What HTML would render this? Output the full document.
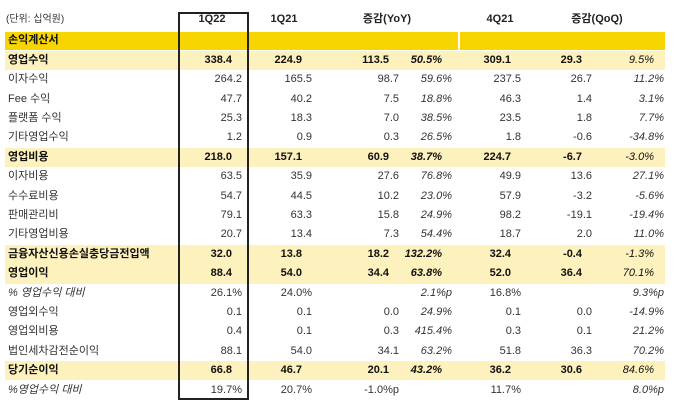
<!DOCTYPE html>
<html><head><meta charset="utf-8"><style>
body{margin:0;background:#fff;}
#c{position:relative;width:680px;height:406px;overflow:hidden;font-family:"Liberation Sans","Noto Sans CJK KR",sans-serif;font-size:11px;color:#333;}
.r{position:absolute;left:0;width:680px;height:19px;line-height:19px;}
.r span{position:absolute;white-space:nowrap;}
.l{left:8px}
.a{right:438px}.b{right:368px}.c{right:281px}.d{right:228px}.e{right:159px}.f{right:88px}.g{right:16px}
.d,.g{font-style:italic}
.hl{background:#fdf1bd;left:5px;width:660px}
.hl span.l{left:3px}
.hl .a{right:433px}.hl .b{right:363px}.hl .c{right:276px}.hl .d{right:223px}.hl .e{right:154px}.hl .f{right:83px}.hl .g{right:11px}
.bd span{font-weight:bold;color:#111}
.bd .d,.bd .g{font-weight:normal}
.bd .d{font-weight:bold}
.it .l{font-style:italic}
.h span{font-weight:bold;color:#222;transform:translateX(-50%)}
</style></head><body><div id="c">
<div class="r" style="top:10px"><span class="l" style="font-weight:normal;transform:none;left:6px;font-size:10px">(단위: 십억원)</span></div>
<div class="r h" style="top:10px"><span style="left:212px">1Q22</span><span style="left:284px">1Q21</span><span style="left:387px">증감(YoY)</span><span style="left:500px">4Q21</span><span style="left:597px">증감(QoQ)</span></div>
<div style="position:absolute;left:5px;top:32px;width:453px;height:18px;background:#f7d500"></div>
<div style="position:absolute;left:460px;top:32px;width:205px;height:18px;background:#f7d500"></div>
<div class="r" style="top:31px"><span class="l" style="left:8px;font-weight:bold;color:#111">손익계산서</span></div>

<div class="r hl bd" style="top:51px"><span class="l">영업수익</span><span class="a">338.4</span><span class="b">224.9</span><span class="c">113.5</span><span class="d">50.5%</span><span class="e">309.1</span><span class="f">29.3</span><span class="g">9.5%</span></div>
<div class="r" style="top:70px"><span class="l">이자수익</span><span class="a">264.2</span><span class="b">165.5</span><span class="c">98.7</span><span class="d">59.6%</span><span class="e">237.5</span><span class="f">26.7</span><span class="g">11.2%</span></div>
<div class="r" style="top:90px"><span class="l">Fee 수익</span><span class="a">47.7</span><span class="b">40.2</span><span class="c">7.5</span><span class="d">18.8%</span><span class="e">46.3</span><span class="f">1.4</span><span class="g">3.1%</span></div>
<div class="r" style="top:109px"><span class="l">플랫폼 수익</span><span class="a">25.3</span><span class="b">18.3</span><span class="c">7.0</span><span class="d">38.5%</span><span class="e">23.5</span><span class="f">1.8</span><span class="g">7.7%</span></div>
<div class="r" style="top:128px"><span class="l">기타영업수익</span><span class="a">1.2</span><span class="b">0.9</span><span class="c">0.3</span><span class="d">26.5%</span><span class="e">1.8</span><span class="f">-0.6</span><span class="g">-34.8%</span></div>
<div class="r hl bd" style="top:148px"><span class="l">영업비용</span><span class="a">218.0</span><span class="b">157.1</span><span class="c">60.9</span><span class="d">38.7%</span><span class="e">224.7</span><span class="f">-6.7</span><span class="g">-3.0%</span></div>
<div class="r" style="top:167px"><span class="l">이자비용</span><span class="a">63.5</span><span class="b">35.9</span><span class="c">27.6</span><span class="d">76.8%</span><span class="e">49.9</span><span class="f">13.6</span><span class="g">27.1%</span></div>
<div class="r" style="top:187px"><span class="l">수수료비용</span><span class="a">54.7</span><span class="b">44.5</span><span class="c">10.2</span><span class="d">23.0%</span><span class="e">57.9</span><span class="f">-3.2</span><span class="g">-5.6%</span></div>
<div class="r" style="top:206px"><span class="l">판매관리비</span><span class="a">79.1</span><span class="b">63.3</span><span class="c">15.8</span><span class="d">24.9%</span><span class="e">98.2</span><span class="f">-19.1</span><span class="g">-19.4%</span></div>
<div class="r" style="top:225px"><span class="l">기타영업비용</span><span class="a">20.7</span><span class="b">13.4</span><span class="c">7.3</span><span class="d">54.4%</span><span class="e">18.7</span><span class="f">2.0</span><span class="g">11.0%</span></div>
<div class="r hl bd" style="top:245px;height:39px"><span class="l">금융자산신용손실충당금전입액</span><span class="a">32.0</span><span class="b">13.8</span><span class="c">18.2</span><span class="d">132.2%</span><span class="e">32.4</span><span class="f">-0.4</span><span class="g">-1.3%</span></div>
<div class="r bd" style="top:264px;left:5px;width:660px"><span class="l" style="left:3px">영업이익</span><span class="a" style="right:433px">88.4</span><span class="b" style="right:363px">54.0</span><span class="c" style="right:276px">34.4</span><span class="d" style="right:223px">63.8%</span><span class="e" style="right:154px">52.0</span><span class="f" style="right:83px">36.4</span><span class="g" style="right:11px">70.1%</span></div>
<div class="r it" style="top:284px"><span class="l">% 영업수익 대비</span><span class="a">26.1%</span><span class="b">24.0%</span><span class="d">2.1%p</span><span class="e">16.8%</span><span class="g">9.3%p</span></div>
<div class="r" style="top:303px"><span class="l">영업외수익</span><span class="a">0.1</span><span class="b">0.1</span><span class="c">0.0</span><span class="d">24.9%</span><span class="e">0.1</span><span class="f">0.0</span><span class="g">-14.9%</span></div>
<div class="r" style="top:322px"><span class="l">영업외비용</span><span class="a">0.4</span><span class="b">0.1</span><span class="c">0.3</span><span class="d">415.4%</span><span class="e">0.3</span><span class="f">0.1</span><span class="g">21.2%</span></div>
<div class="r" style="top:342px"><span class="l">법인세차감전순이익</span><span class="a">88.1</span><span class="b">54.0</span><span class="c">34.1</span><span class="d">63.2%</span><span class="e">51.8</span><span class="f">36.3</span><span class="g">70.2%</span></div>
<div class="r hl bd" style="top:361px"><span class="l">당기순이익</span><span class="a">66.8</span><span class="b">46.7</span><span class="c">20.1</span><span class="d">43.2%</span><span class="e">36.2</span><span class="f">30.6</span><span class="g">84.6%</span></div>
<div class="r it" style="top:381px"><span class="l">%영업수익 대비</span><span class="a">19.7%</span><span class="b">20.7%</span><span class="c">-1.0%p</span><span class="e">11.7%</span><span class="g">8.0%p</span></div>
<div style="position:absolute;left:178px;top:12px;width:67px;height:384px;border:2px solid #222"></div>
</div></body></html>
